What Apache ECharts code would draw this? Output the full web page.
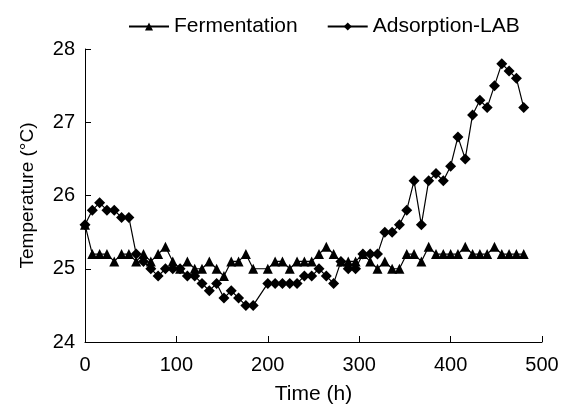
<!DOCTYPE html>
<html>
<head>
<meta charset="utf-8">
<script src="https://cdn.jsdelivr.net/npm/echarts@6/dist/echarts.min.js"></script>
<style>
  html, body { margin: 0; padding: 0; background: #fff; }
  #chart { width: 569px; height: 410px; }
</style>
</head>
<body>
<div id="chart"></div>
<script>
// sampling times (h), no reading at 192 h
var hours = [0, 8, 16, 24, 32, 40, 48, 56, 64, 72, 80, 88, 96, 104, 112, 120, 128, 136, 144, 152,
  160, 168, 176, 184, 200, 208, 216, 224, 232, 240, 248, 256, 264, 272, 280, 288, 296, 304, 312, 320,
  328, 336, 344, 352, 360, 368, 376, 384, 392, 400, 408, 416, 424, 432, 440, 448, 456, 464, 472, 480];

var fermentation = [25.6, 25.2, 25.2, 25.2, 25.1, 25.2, 25.2, 25.1, 25.2, 25.1, 25.2, 25.3, 25.1, 25.0, 25.1, 25.0, 25.0, 25.1, 25.0, 24.9,
  25.1, 25.1, 25.2, 25.0, 25.0, 25.1, 25.1, 25.0, 25.1, 25.1, 25.1, 25.2, 25.3, 25.2, 25.1, 25.1, 25.1, 25.2, 25.1, 25.0,
  25.1, 25.0, 25.0, 25.2, 25.2, 25.1, 25.3, 25.2, 25.2, 25.2, 25.2, 25.3, 25.2, 25.2, 25.2, 25.3, 25.2, 25.2, 25.2, 25.2];

var adsorptionLab = [25.6, 25.8, 25.9, 25.8, 25.8, 25.7, 25.7, 25.2, 25.1, 25.0, 24.9, 25.0, 25.0, 25.0, 24.9, 24.9, 24.8, 24.7, 24.8, 24.6,
  24.7, 24.6, 24.5, 24.5, 24.8, 24.8, 24.8, 24.8, 24.8, 24.9, 24.9, 25.0, 24.9, 24.8, 25.1, 25.0, 25.0, 25.2, 25.2, 25.2,
  25.5, 25.5, 25.6, 25.8, 26.2, 25.6, 26.2, 26.3, 26.2, 26.4, 26.8, 26.5, 27.1, 27.3, 27.2, 27.5, 27.8, 27.7, 27.6, 27.2];

var seriesNames = ['Fermentation', 'Adsorption-LAB'];

function pairs(ys) {
  return hours.map(function (h, i) { return [h, ys[i]]; });
}

var chart = echarts.init(document.getElementById('chart'));
var font = 'Liberation Sans, Arial, sans-serif';

var option = {
  animation: false,
  backgroundColor: '#fff',
  textStyle: { fontFamily: font, color: '#000' },
  legend: {
    data: seriesNames,
    left: 123,
    top: 11,
    itemWidth: 40,
    itemHeight: 10,
    itemGap: 29,
    textStyle: { fontSize: 21, color: '#000', fontFamily: font }
  },
  grid: { left: 85, right: 27, top: 49, bottom: 68 },
  xAxis: {
    type: 'value',
    min: 0,
    max: 500,
    interval: 100,
    name: 'Time (h)',
    nameLocation: 'middle',
    nameGap: 42,
    nameTextStyle: { fontSize: 21, color: '#000' },
    axisLine: { lineStyle: { color: '#000', width: 1 } },
    axisTick: { inside: true, length: 6, lineStyle: { color: '#000' } },
    axisLabel: { fontSize: 20, color: '#000', margin: 13 },
    splitLine: { show: false }
  },
  yAxis: {
    type: 'value',
    min: 24,
    max: 28,
    interval: 1,
    name: 'Temperature (°C)',
    nameLocation: 'middle',
    nameGap: 48,
    nameTextStyle: { fontSize: 19, color: '#000' },
    axisLine: { show: true, lineStyle: { color: '#000', width: 1 } },
    axisTick: { show: true, inside: true, length: 6, lineStyle: { color: '#000' } },
    axisLabel: { fontSize: 20, color: '#000', margin: 10 },
    splitLine: { show: false }
  },
  series: [{
    name: seriesNames[0],
    type: 'line',
    z: 3,
    symbol: 'triangle',
    symbolSize: 10,
    showAllSymbol: true,
    lineStyle: { color: '#000', width: 1.2 },
    itemStyle: { color: '#000' },
    data: pairs(fermentation)
  }, {
    name: seriesNames[1],
    type: 'line',
    z: 2,
    symbol: 'diamond',
    symbolSize: 11,
    showAllSymbol: true,
    lineStyle: { color: '#000', width: 1.2 },
    itemStyle: { color: '#000' },
    data: pairs(adsorptionLab)
  }]
};
chart.setOption(option);
</script>
</body>
</html>
